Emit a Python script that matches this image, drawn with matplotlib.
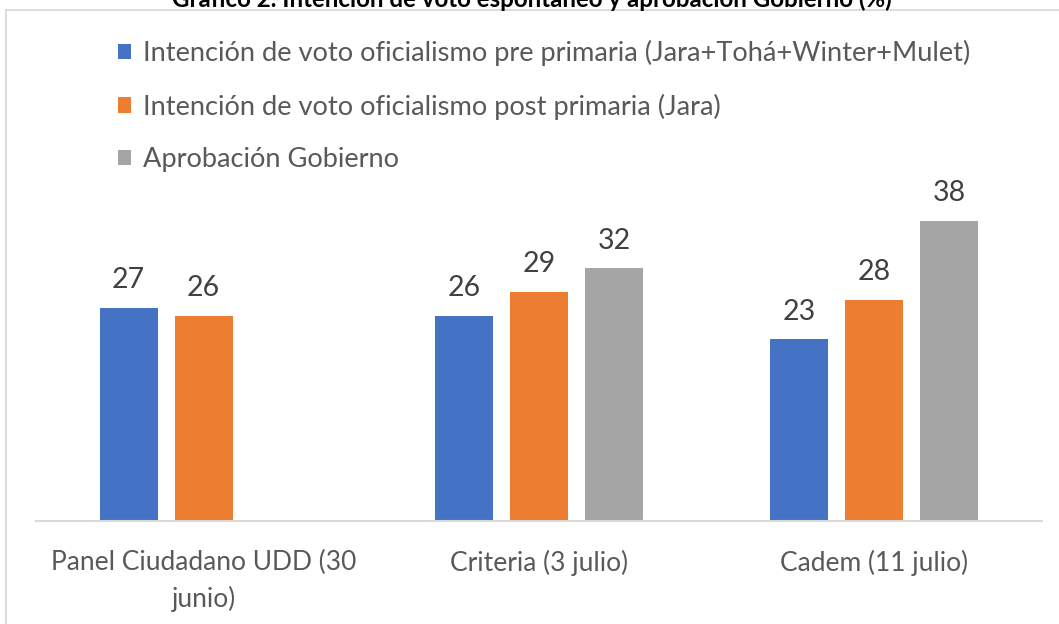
import matplotlib
matplotlib.use("Agg")
import matplotlib.pyplot as plt
from matplotlib.patches import Rectangle
import numpy as np

plt.rcParams['font.family'] = ['Lato', 'DejaVu Sans']

# data
categories = ["Panel Ciudadano UDD (30\njunio)", "Criteria (3 julio)", "Cadem (11 julio)"]
series_names = ["Intención de voto oficialismo pre primaria (Jara+Tohá+Winter+Mulet)",
                "Intención de voto oficialismo post primaria (Jara)",
                "Aprobación Gobierno"]
pre_primaria = [27, 26, 23]
post_primaria = [26, 29, 28]
aprobacion = [np.nan, 32, 38]
title = "Gráfico 2. Intención de voto espontáneo y aprobación Gobierno (%)"

colors = ["#4472C4", "#ED7D31", "#A5A5A5"]

W, H = 1059, 624
fig = plt.figure(figsize=(W / 100, H / 100), dpi=100)

# chart frame
fig.patches.append(Rectangle((6 / W, -0.1), 1.2, (H - 10) / H + 0.1,
                             transform=fig.transFigure, fill=False,
                             edgecolor="#D9D9D9", linewidth=1.3))

ax = fig.add_axes([36 / W, 103 / H, 1006 / W, 315.8 / H])

x = np.arange(len(categories))
w = 0.173
off = 0.224
all_series = [pre_primaria, post_primaria, aprobacion]
bars = []
for i, vals in enumerate(all_series):
    b = ax.bar(x + (i - 1) * off, vals, width=w, color=colors[i], label=series_names[i])
    bars.append(b)
    for xi, v in zip(x, vals):
        if not np.isnan(v):
            ax.text(xi + (i - 1) * off, v + 3.5, f"{v:g}", ha="center", va="center",
                    fontsize=20.5, color="#404040")

ax.set_xlim(-0.5, 2.5)
ax.set_ylim(0, 40)
ax.set_yticks([])
ax.set_xticks(x)
ax.set_xticklabels(categories, fontsize=19, color="#595959", linespacing=1.55)
ax.tick_params(axis="x", length=0, pad=20.5)
for s in ["top", "left", "right"]:
    ax.spines[s].set_visible(False)
ax.spines["bottom"].set_color("#D9D9D9")
ax.spines["bottom"].set_linewidth(1.5)
ax.set_facecolor("none")

leg = fig.legend(handles=bars, labels=series_names, loc="upper left",
                 bbox_to_anchor=(118 / W, 1 - 40 / H), frameon=False,
                 fontsize=19.6, handlelength=0.48, handleheight=0.48,
                 handletextpad=0.44, labelspacing=1.01, borderaxespad=0,
                 borderpad=0)
for t in leg.get_texts():
    t.set_color("#595959")

fig.text(0.502, 1 - 7 / H, title, ha="center", va="baseline",
         fontsize=17.4, fontweight="bold", color="#000000")

fig.savefig("out.png", dpi=100)
